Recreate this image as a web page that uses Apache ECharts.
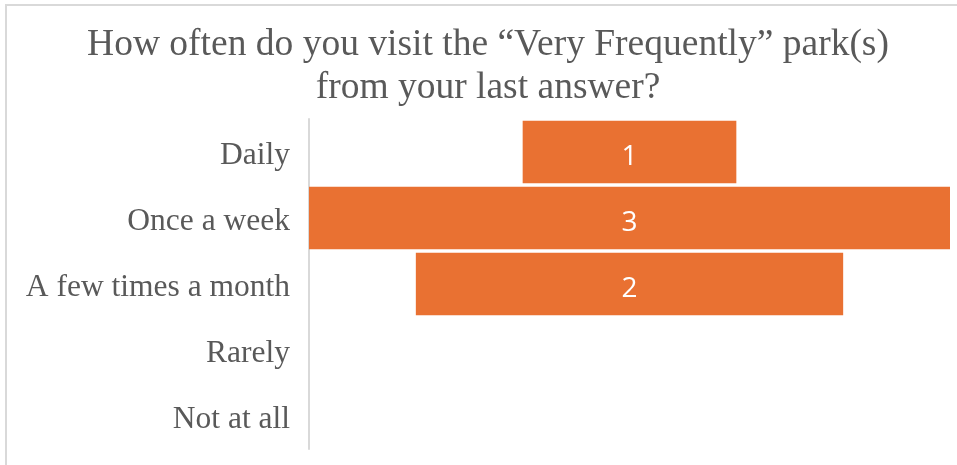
<!DOCTYPE html>
<html>
<head>
<meta charset="utf-8">
<script src="https://cdn.jsdelivr.net/npm/echarts@6/dist/echarts.min.js"></script>
<style>
  html, body { margin: 0; padding: 0; background: #fff; }
  #chart { width: 957px; height: 465px; }
</style>
</head>
<body>
<div id="chart"></div>
<script>
const titleText = "How often do you visit the \u201cVery Frequently\u201d park(s)\nfrom your last answer?";
const categories = ["Daily", "Once a week", "A few times a month", "Rarely", "Not at all"];
const counts = [1, 3, 2, 0, 0];
const maxCount = 3;

// transparent spacer so each bar sits centred on the axis range
const offsets = counts.map(v => (maxCount - v) / 2);

const chart = echarts.init(document.getElementById("chart"));

chart.setOption({
  backgroundColor: "#fff",
  animation: false,
  title: {
    text: titleText,
    left: 483,
    top: 19,
    textAlign: "center",
    textStyle: {
      fontFamily: "Liberation Serif",
      fontWeight: "normal",
      fontSize: 37.5,
      lineHeight: 43,
      color: "#595959"
    }
  },
  graphic: [{
    type: "rect",
    shape: { x: 6, y: 5, width: 1000, height: 500 },
    style: { fill: null, stroke: "#d9d9d9", lineWidth: 2 },
    silent: true
  }],
  grid: { left: 309, right: 7, top: 119, bottom: 16 },
  xAxis: {
    type: "value",
    min: 0,
    max: maxCount,
    show: false
  },
  yAxis: {
    type: "category",
    data: categories,
    inverse: true,
    axisLine: { show: true, lineStyle: { color: "#d9d9d9", width: 2 } },
    axisTick: { show: false },
    axisLabel: {
      margin: 19,
      formatter: v => "{c|" + v + "}",
      rich: {
        c: {
          padding: [8, 0, 0, 0],
          fontFamily: "Liberation Serif",
          fontSize: 31.5,
          color: "#595959"
        }
      }
    }
  },
  series: [
    {
      type: "bar",
      stack: "f",
      data: offsets,
      itemStyle: { color: "transparent" },
      silent: true,
      barCategoryGap: "5%"
    },
    {
      type: "bar",
      stack: "f",
      data: counts,
      itemStyle: { color: "#e97132" },
      barCategoryGap: "5%",
      label: {
        show: true,
        position: "inside",
        offset: [0, 5],
        color: "#fff",
        fontFamily: "Open Sans",
        fontSize: 28,
        formatter: p => (p.value > 0 ? p.value : "")
      }
    }
  ]
});
</script>
</body>
</html>
